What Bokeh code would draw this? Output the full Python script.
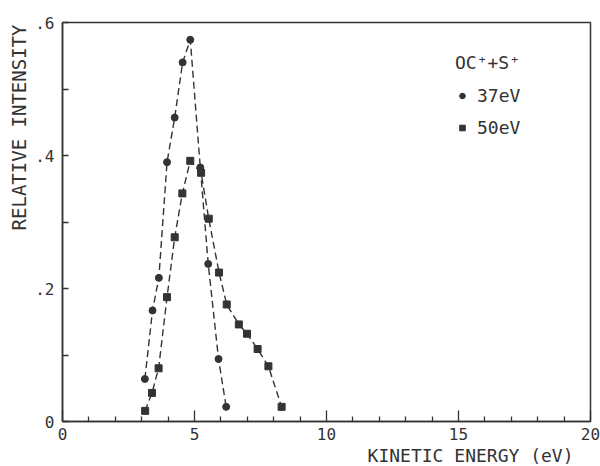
from bokeh.plotting import figure
from bokeh.models import Range1d, FixedTicker, Legend, LegendItem, Title
from bokeh.embed import file_html
from bokeh.resources import INLINE

# Data
e37_x = [3.12, 3.41, 3.65, 3.96, 4.25, 4.55, 4.84, 5.22, 5.52, 5.91, 6.20]
e37_y = [0.064, 0.167, 0.216, 0.390, 0.457, 0.540, 0.574, 0.382, 0.237, 0.094, 0.022]
e50_x = [3.13, 3.39, 3.64, 3.96, 4.25, 4.54, 4.84, 5.25, 5.54, 5.93, 6.22, 6.68, 6.99, 7.39, 7.80, 8.30]
e50_y = [0.016, 0.043, 0.080, 0.187, 0.277, 0.343, 0.392, 0.374, 0.305, 0.224, 0.176, 0.146, 0.132, 0.109, 0.083, 0.022]

x_ticks = [0, 5, 10, 15, 20]
x_minor = [i for i in range(0, 21) if i % 5]
y_ticks = [0, 0.2, 0.4, 0.6]
y_minor = [0.1, 0.3, 0.5]
y_labels = {0: "0", 0.2: ".2", 0.4: ".4", 0.6: ".6"}

x_title = "KINETIC ENERGY (eV)"
y_title = "RELATIVE INTENSITY"
legend_title = "OC\u207a+S\u207a"
series_names = ["37eV", "50eV"]

INK = "#333333"
FONT = "DejaVu Sans Mono"

p = figure(width=600, height=466, output_backend="svg", toolbar_location=None,
           x_range=Range1d(0, 20), y_range=Range1d(0, 0.6),
           min_border_left=62, min_border_right=10, min_border_top=22, min_border_bottom=45)

p.grid.visible = False
p.background_fill_color = "white"
p.border_fill_color = "white"
p.outline_line_color = INK
p.outline_line_width = 1.5

# dashed connecting lines
p.line(e37_x, e37_y, line_color=INK, line_width=1.4, line_dash="7 4")
p.line(e50_x, e50_y, line_color=INK, line_width=1.4, line_dash="7 4")

r37 = p.scatter(e37_x, e37_y, marker="circle", size=7, fill_color=INK, line_color=INK)
r50 = p.scatter(e50_x, e50_y, marker="square", size=7, fill_color=INK, line_color=INK)

# x axis
xa = p.xaxis[0]
xa.ticker = FixedTicker(ticks=x_ticks, minor_ticks=x_minor)
xa.major_tick_in = 11
xa.major_tick_out = 0
xa.minor_tick_in = 5
xa.minor_tick_out = 0
xa.axis_line_color = INK
xa.axis_line_width = 1.5
xa.major_tick_line_color = INK
xa.minor_tick_line_color = INK
xa.major_tick_line_width = 1.3
xa.minor_tick_line_width = 1.3
xa.major_label_text_font = FONT
xa.major_label_text_font_size = "16px"
xa.major_label_text_color = INK
xa.major_label_standoff = 6

# y axis
ya = p.yaxis[0]
ya.ticker = FixedTicker(ticks=y_ticks, minor_ticks=y_minor)
ya.major_label_overrides = y_labels
ya.major_tick_in = 6
ya.major_tick_out = 0
ya.minor_tick_in = 6
ya.minor_tick_out = 0
ya.axis_line_color = INK
ya.axis_line_width = 1.5
ya.major_tick_line_color = INK
ya.minor_tick_line_color = INK
ya.major_tick_line_width = 1.3
ya.minor_tick_line_width = 1.3
ya.major_label_text_font = FONT
ya.major_label_text_font_size = "16px"
ya.major_label_text_color = INK
ya.major_label_standoff = 8

# axis titles as side titles (right-aligned x title, top-aligned y title)
p.add_layout(Title(text=x_title, align="right", offset=17, standoff=0,
                   text_font=FONT, text_font_size="18px", text_font_style="normal",
                   text_color=INK), "below")
p.add_layout(Title(text=y_title, align="right", offset=2, standoff=6,
                   text_font=FONT, text_font_size="19px", text_font_style="normal",
                   text_color=INK), "left")

legend = Legend(items=[LegendItem(label=series_names[0], renderers=[r37]),
                       LegendItem(label=series_names[1], renderers=[r50])],
                location=(393, 283), title=legend_title,
                title_text_font=FONT, title_text_font_size="18px", title_text_font_style="normal",
                title_text_color=INK, title_standoff=12,
                label_text_font=FONT, label_text_font_size="18px", label_text_color=INK,
                label_standoff=8, label_height=21, glyph_height=21, glyph_width=14,
                spacing=11, padding=0, margin=0,
                border_line_color=None, background_fill_alpha=0)
p.add_layout(legend)

open("out.html", "w").write(file_html(p, INLINE))
